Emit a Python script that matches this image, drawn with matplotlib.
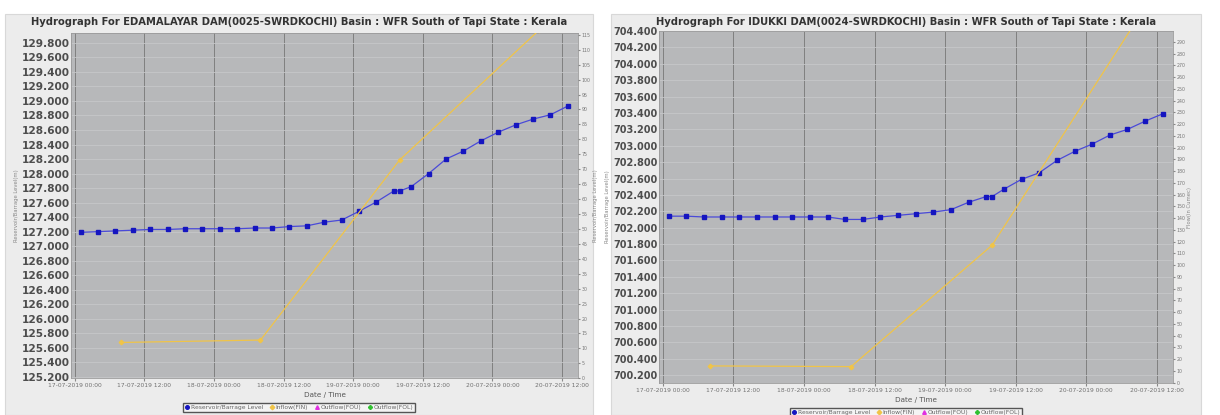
import matplotlib
matplotlib.use('Agg')
import matplotlib.pyplot as plt
import matplotlib.dates as mdates
import numpy as np
import pandas as pd
from matplotlib.patches import Rectangle
from matplotlib.lines import Line2D

W, H = 1220, 415

# reservoir level: 3-hourly readings from 17-07-2019 01:00, plus an extra one at 19-07-2019 08:00
level_times = list(pd.date_range('2019-07-17 01:00', periods=29, freq='3h'))
level_times.insert(19, pd.Timestamp('2019-07-19 08:00'))

edamalayar_level = [127.19, 127.20, 127.21, 127.22, 127.23, 127.23, 127.24, 127.24, 127.24, 127.24,
                    127.25, 127.25, 127.27, 127.28, 127.33, 127.36, 127.48, 127.61, 127.76, 127.76,
                    127.82, 128.00, 128.20, 128.31, 128.45, 128.57, 128.67, 128.75, 128.81, 128.93]
idukki_level = [702.14, 702.14, 702.13, 702.13, 702.13, 702.13, 702.13, 702.13, 702.13, 702.13,
                702.10, 702.10, 702.13, 702.15, 702.17, 702.19, 702.22, 702.31, 702.38, 702.38,
                702.47, 702.59, 702.67, 702.82, 702.93, 703.02, 703.13, 703.20, 703.30, 703.39]

# daily inflow readings (cumec)
inflow_times = pd.to_datetime(['2019-07-17 08:00', '2019-07-18 08:00', '2019-07-19 08:00', '2019-07-20 08:00'])
edamalayar_inflow = [12.0, 12.8, 73.1, 116.5]
idukki_inflow = [14.3, 13.7, 117.1, 304.0]

edamalayar_title = 'Hydrograph For EDAMALAYAR DAM(0025-SWRDKOCHI) Basin : WFR South of Tapi State : Kerala'
idukki_title = 'Hydrograph For IDUKKI DAM(0024-SWRDKOCHI) Basin : WFR South of Tapi State : Kerala'
legend_labels = ['Reservoir/Barrage Level', 'Inflow(FIN)', 'Outflow(FOU)', 'Outflow(FOL)']

x_ticks = pd.date_range('2019-07-17 00:00', '2019-07-20 12:00', freq='12h')
x_lim = (pd.Timestamp('2019-07-16 23:20'), pd.Timestamp('2019-07-20 14:45'))

BLUE_LINE = '#4a4ad8'
BLUE_MARK = '#1515c0'
YELLOW = '#f0c448'


def fx(px):
    return px / W


def fy(py):
    return 1 - py / H


def draw_chart(fig, panel, plot, title, level, inflow, ylim, yticks, ylim2, yticks2,
               left_label, right_label, ytick_size):
    p0, p1 = panel
    fig.patches.append(Rectangle((fx(p0), 0), fx(p1 - p0), fy(14), transform=fig.transFigure,
                                 facecolor='#ececec', edgecolor='#d8d8d8', lw=0.8, zorder=-10))
    l, r, t, b = plot
    ax = fig.add_axes([fx(l), fy(b), fx(r - l), (b - t) / H], zorder=1)
    ax.set_facecolor('#b7b8ba')
    ax.plot(level_times, level, color=BLUE_LINE, lw=0.9, marker='s', ms=2.4,
            mfc=BLUE_MARK, mec=BLUE_MARK, zorder=4)
    ax.set_xlim(*x_lim)
    ax.set_ylim(*ylim)
    ax.set_yticks(yticks)
    ax.set_yticklabels([f'{v:.3f}' for v in yticks], fontsize=ytick_size,
                       fontweight='bold', color='#4d4d4d')
    ax.set_xticks(x_ticks)
    ax.xaxis.set_major_formatter(mdates.DateFormatter('%d-%m-%Y %H:%M'))
    ax.tick_params(axis='x', labelsize=4.3, labelcolor='#707070', length=2, color='#888888', pad=1.5)
    ax.tick_params(axis='y', length=0, pad=1)
    ax.grid(axis='x', color='#808080', lw=0.7)
    ax.grid(axis='y', color='#c6c7c9', lw=0.6)
    for s in ax.spines.values():
        s.set_color('#9a9a9a')
        s.set_linewidth(0.6)

    ax2 = ax.twinx()
    ax2.plot(inflow_times, inflow, color=YELLOW, lw=0.9, marker='D', ms=2.3,
             mfc=YELLOW, mec=YELLOW, zorder=3)
    ax2.set_ylim(*ylim2)
    ax2.set_yticks(yticks2)
    ax2.set_yticklabels([str(v) for v in yticks2], fontsize=3.4, color='#777777')
    ax2.tick_params(axis='y', length=1.5, color='#888888', pad=1)
    for s in ax2.spines.values():
        s.set_visible(False)

    cx = (l + r) / 2
    cy = (t + b) / 2
    fig.text(fx((p0 + p1) / 2), fy(22), title, ha='center', va='center',
             fontsize=7.2, fontweight='bold', color='#333333')
    fig.text(fx(cx), fy(b + 17), 'Date / Time', ha='center', va='center', fontsize=5.2, color='#555555')
    fig.text(fx(left_label), fy(cy), 'Reservoir/Barrage Level(m)', rotation=90, ha='center',
             va='center', fontsize=3.8, color='#888888')
    fig.text(fx(r + 17), fy(cy), right_label, rotation=90, ha='center', va='center',
             fontsize=3.8, color='#888888')

    handles = [Line2D([], [], ls='none', marker='o', ms=2.6, color='#1515c0'),
               Line2D([], [], ls='none', marker='D', ms=2.3, color='#f0c448'),
               Line2D([], [], ls='none', marker='^', ms=2.6, color='#e030e0'),
               Line2D([], [], ls='none', marker='P', ms=2.6, color='#30c030')]
    fig.legend(handles, legend_labels, loc='center', bbox_to_anchor=(fx((p0 + p1) / 2), fy(b + 29)),
               ncol=4, fontsize=4.3, frameon=True, fancybox=False, edgecolor='#555555',
               facecolor='#f4f4f4', handletextpad=0.25, columnspacing=1.0, borderpad=0.35,
               handlelength=0.8, labelcolor='#666666', framealpha=1)
    return ax


fig = plt.figure(figsize=(W / 100, H / 100), dpi=100, facecolor='white')

draw_chart(fig, (5, 593), (71, 578, 33, 378.3), edamalayar_title, edamalayar_level, edamalayar_inflow,
           (125.18, 129.936), np.round(np.arange(125.2, 129.81, 0.2), 1), (0, 115.6), list(range(0, 116, 5)),
           17, 'Reservoir/Barrage Level(m)', 7.6)
draw_chart(fig, (611, 1201), (659, 1173, 30.7, 383.3), idukki_title, idukki_level, idukki_inflow,
           (700.099, 704.405), np.round(np.arange(700.2, 704.41, 0.2), 1), (-0.5, 299.6), list(range(0, 291, 10)),
           608, 'Flow(in Cumec)', 7.0)

fig.savefig('out.png', dpi=100, facecolor=fig.get_facecolor())
